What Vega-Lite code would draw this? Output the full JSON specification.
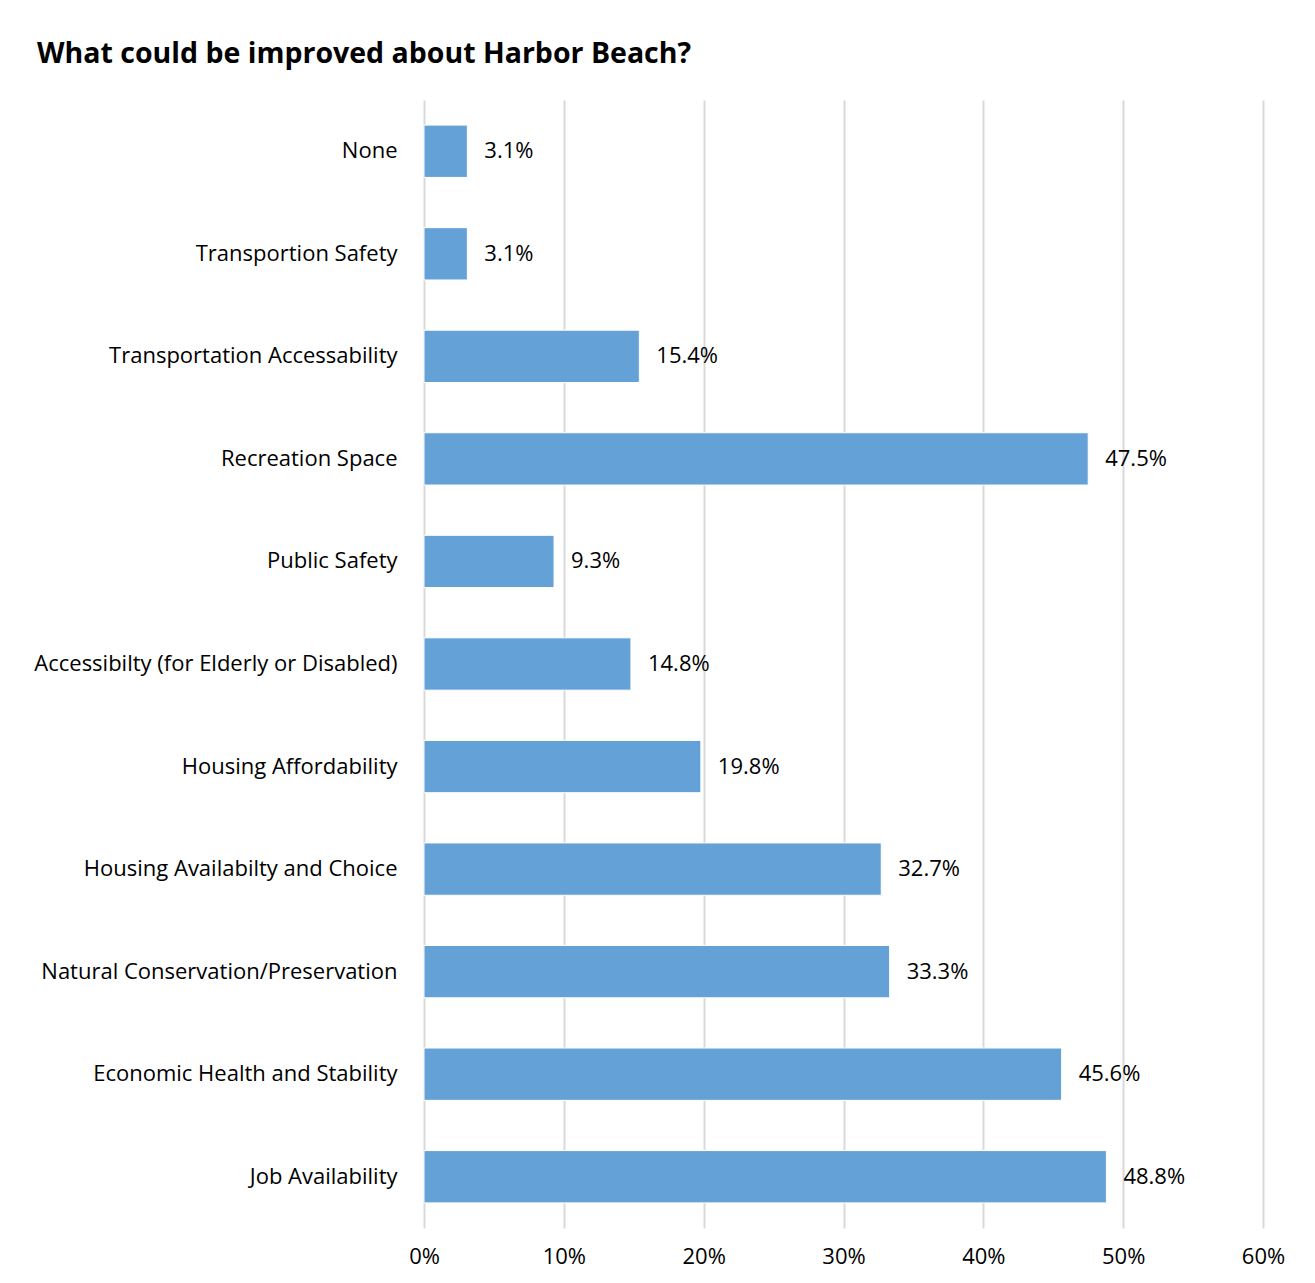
{
  "$schema": "https://vega.github.io/schema/vega-lite/v6.json",
  "autosize": {"type": "none"},
  "width": 839,
  "height": 1128,
  "padding": {"left": 424, "top": 100, "right": 52, "bottom": 55},
  "background": "white",
  "title": {
    "text": "What could be improved about Harbor Beach?",
    "anchor": "start",
    "frame": "group",
    "dx": -387,
    "offset": 9,
    "baseline": "alphabetic",
    "font": "Open Sans",
    "fontSize": 28.5,
    "fontWeight": "bold",
    "color": "#000000"
  },
  "data": {
    "values": [
      {"category": "None", "value": 0.031},
      {"category": "Transportion Safety", "value": 0.031},
      {"category": "Transportation Accessability", "value": 0.154},
      {"category": "Recreation Space", "value": 0.475},
      {"category": "Public Safety", "value": 0.093},
      {"category": "Accessibilty (for Elderly or Disabled)", "value": 0.148},
      {"category": "Housing Affordability", "value": 0.198},
      {"category": "Housing Availabilty and Choice", "value": 0.327},
      {"category": "Natural Conservation/Preservation", "value": 0.333},
      {"category": "Economic Health and Stability", "value": 0.456},
      {"category": "Job Availability", "value": 0.488}
    ]
  },
  "encoding": {
    "y": {
      "field": "category",
      "type": "nominal",
      "sort": null,
      "scale": {"paddingInner": 0.49, "paddingOuter": 0.245},
      "axis": {
        "title": null,
        "domain": false,
        "ticks": false,
        "labelPadding": 27,
        "labelFont": "Open Sans",
        "labelFontSize": 22,
        "labelColor": "#000000",
        "labelLimit": 500
      }
    },
    "x": {
      "field": "value",
      "type": "quantitative",
      "scale": {"domain": [0, 0.6], "nice": false},
      "axis": {
        "title": null,
        "format": ".0%",
        "values": [0, 0.1, 0.2, 0.3, 0.4, 0.5, 0.6],
        "domain": false,
        "ticks": false,
        "grid": true,
        "gridColor": "#d9d9d9",
        "gridWidth": 2,
        "labelFlush": false,
        "labelPadding": 18,
        "labelFont": "Open Sans",
        "labelFontSize": 22,
        "labelColor": "#000000"
      }
    }
  },
  "layer": [
    {
      "mark": {"type": "bar", "color": "#64A1D7", "stroke": "#ffffff", "strokeWidth": 1}
    },
    {
      "mark": {
        "type": "text",
        "align": "left",
        "baseline": "middle",
        "dx": 17,
        "font": "Open Sans",
        "fontSize": 22,
        "color": "#000000"
      },
      "encoding": {
        "text": {"field": "value", "type": "quantitative", "format": ".1%"}
      }
    }
  ],
  "config": {"view": {"stroke": null}}
}
